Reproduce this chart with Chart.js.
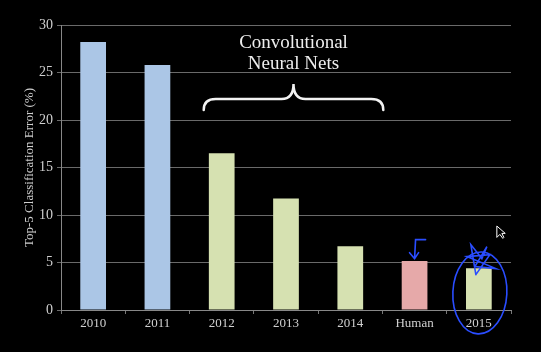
<!DOCTYPE html>
<html><head><meta charset="utf-8">
<script src="https://cdn.jsdelivr.net/npm/chart.js@4.4.1/dist/chart.umd.min.js"></script>
<style>html,body{margin:0;padding:0;background:#000;}#w{width:541px;height:352px;}</style>
</head><body><div id="w"><canvas id="c"></canvas></div>
<script>
const categories = ['2010','2011','2012','2013','2014','Human','2015'];
const errorValues = [28.2, 25.8, 16.5, 11.75, 6.7, 5.15, 4.4];
const barColors = ['#abc6e6','#abc6e6','#d6e1b1','#d6e1b1','#d6e1b1','#e6a9a9','#d6e1b1'];
const yTicks = [0,5,10,15,20,25,30];
const annotationLines = ['Convolutional','Neural Nets'];
const SERIF = '"Liberation Serif", "DejaVu Serif", serif';

const annot = {
  id:'annot',
  afterDatasetsDraw(chart){
    const ctx = chart.ctx, x = chart.scales.x, y = chart.scales.y;
    const l = x.getPixelForValue(2) - 18, r = x.getPixelForValue(4) + 33, m = (l+r)/2;
    const yb = y.getPixelForValue(22.2), yp = yb - 15, ye = yb + 11;
    ctx.save();
    ctx.fillStyle = '#eeeeee';
    ctx.font = '19px ' + SERIF;
    ctx.textAlign = 'center'; ctx.textBaseline = 'middle';
    ctx.fillText(annotationLines[0], m, y.getPixelForValue(28.1));
    ctx.fillText(annotationLines[1], m, y.getPixelForValue(25.9));
    // brace
    ctx.strokeStyle = '#f2f2f2'; ctx.lineWidth = 2.5; ctx.lineCap='round';
    ctx.beginPath();
    ctx.moveTo(l, ye);
    ctx.quadraticCurveTo(l, yb, l+12, yb);
    ctx.lineTo(m-12, yb);
    ctx.quadraticCurveTo(m, yb, m, yp);
    ctx.quadraticCurveTo(m, yb, m+12, yb);
    ctx.lineTo(r-12, yb);
    ctx.quadraticCurveTo(r, yb, r, ye);
    ctx.stroke();
    // hand-drawn blue annotations
    ctx.strokeStyle = '#2a4dff'; ctx.lineWidth = 1.6;
    const cx = x.getPixelForValue(6), cy = y.getPixelForValue(1.8);
    ctx.beginPath(); ctx.ellipse(cx+1, cy, 27, 41, 0.05, 0, Math.PI*2); ctx.stroke();
    // arrow above Human
    const hx = x.getPixelForValue(5), ht = y.getPixelForValue(5.3);
    ctx.beginPath();
    ctx.moveTo(hx+11, ht-20); ctx.lineTo(hx+1, ht-20); ctx.lineTo(hx, ht-1);
    ctx.moveTo(hx-5, ht-7); ctx.lineTo(hx, ht-1); ctx.lineTo(hx+4, ht-7);
    ctx.stroke();
    // star
    const sx = cx, sy = y.getPixelForValue(5.2);
    ctx.beginPath();
    ctx.moveTo(sx-3, sy+14); ctx.lineTo(sx-8, sy-16); ctx.lineTo(sx+3, sy-2);
    ctx.lineTo(sx+8, sy-14); ctx.lineTo(sx-4, sy+6); ctx.lineTo(sx+17, sy+8);
    ctx.lineTo(sx-12, sy-4); ctx.lineTo(sx+11, sy-6); ctx.lineTo(sx-3, sy+14);
    ctx.stroke();
    // cursor
    const px = x.getPixelForValue(6)+18, py = y.getPixelForValue(8.8);
    ctx.fillStyle = '#000'; ctx.strokeStyle = '#fff'; ctx.lineWidth = 1;
    ctx.beginPath(); ctx.moveTo(px,py); ctx.lineTo(px,py+11); ctx.lineTo(px+3,py+8);
    ctx.lineTo(px+6,py+12); ctx.lineTo(px+7,py+11); ctx.lineTo(px+5,py+7); ctx.lineTo(px+8,py+7);
    ctx.closePath(); ctx.fill(); ctx.stroke();
    ctx.restore();
  }
};

new Chart(document.getElementById('c'), {
  type:'bar',
  data:{labels:categories, datasets:[{data:errorValues, backgroundColor:barColors, barPercentage:0.4, categoryPercentage:1}]},
  options:{
    responsive:true, maintainAspectRatio:false, animation:false,
    layout:{padding:{left:22, right:30, top:25, bottom:0}},
    plugins:{legend:{display:false}, tooltip:{enabled:false}},
    scales:{
      x:{
        grid:{drawOnChartArea:false, drawTicks:true, tickLength:4, color:'#777', offset:true},
        border:{color:'#888', width:1},
        ticks:{color:'#d0d0d0', font:{family:SERIF, size:13}, padding:2},
        afterFit(s){ s.height = 42; }
      },
      y:{
        min:0, max:30,
        afterBuildTicks(s){ s.ticks = yTicks.map(v=>({value:v})); },
        grid:{color:'#6a6a6a', tickLength:4, lineWidth:1},
        border:{color:'#888', width:1},
        ticks:{color:'#d0d0d0', font:{family:SERIF, size:14}, padding:4},
        title:{display:true, text:'Top-5 Classification Error (%)', color:'#cfcfcf', font:{family:SERIF, size:13}, padding:{top:0,bottom:0}},
        afterFit(s){ s.width = 39; }
      }
    }
  },
  plugins:[annot]
});
</script></body></html>
